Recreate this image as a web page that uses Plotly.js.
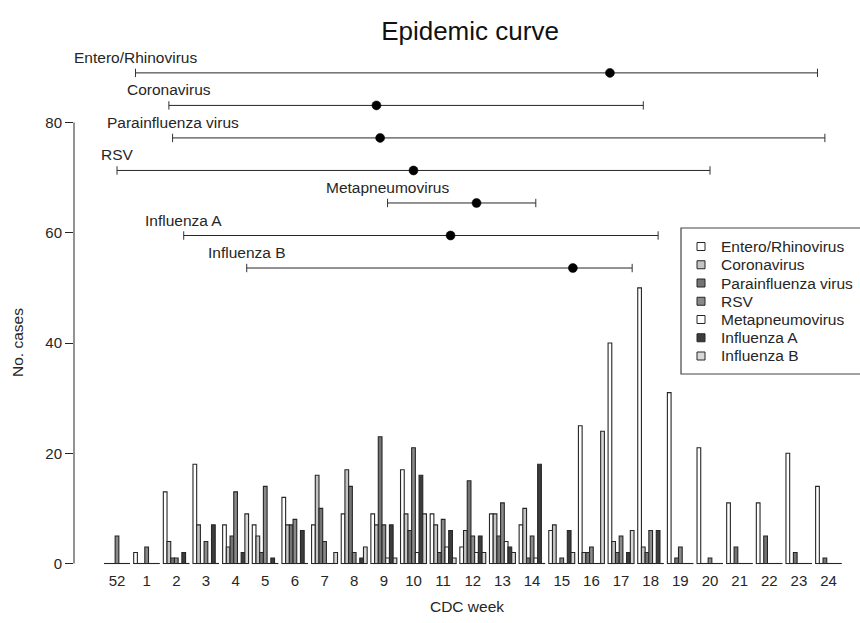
<!DOCTYPE html>
<html>
<head>
<meta charset="utf-8">
<script src="https://cdn.plot.ly/plotly-3.0.1.min.js"></script>
<style>
  html, body { margin: 0; padding: 0; background: #fff; }
  #chart { width: 860px; height: 623px; }
</style>
</head>
<body>
<div id="chart"></div>
<script>
// ---------------- data ----------------
const weeks = ['52','1','2','3','4','5','6','7','8','9','10','11','12','13','14','15','16','17','18','19','20','21','22','23','24'];

const seriesNames = ['Entero/Rhinovirus','Coronavirus','Parainfluenza virus','RSV','Metapneumovirus','Influenza A','Influenza B'];

const enteroRhino   = [0,2,13,18,7,7,12,7,9,9,17,9,3,9,7,6,25,40,50,31,21,11,11,20,14];
const coronavirus   = [0,0,4,7,3,5,7,16,17,7,9,7,6,9,10,7,2,4,3,0,0,0,0,0,0];
const parainfluenza = [0,0,1,0,5,2,7,10,14,23,6,2,15,5,1,0,2,2,2,1,0,3,5,2,1];
const rsv           = [5,3,1,4,13,14,8,4,2,7,21,8,5,11,5,1,3,5,6,3,1,0,0,0,0];
const metapneumo    = [0,0,0,0,0,0,0,0,0,1,2,3,2,4,1,0,0,0,0,0,0,0,0,0,0];
const influenzaA    = [0,0,2,7,2,1,6,0,1,7,16,6,5,3,18,6,0,2,6,0,0,0,0,0,0];
const influenzaB    = [0,0,0,0,9,0,0,2,3,1,9,1,2,2,0,2,24,6,0,0,0,0,0,0,0];

// epidemic period per virus: first week, median week, last week
const rangeStart  = ['1','2','2','52','9','2','4'];
const rangeMedian = ['17','9','9','10','12','11','15'];
const rangeEnd    = ['24','18','24','20','14','18','17'];

// ---------------- styling ----------------
const seriesValues = [enteroRhino, coronavirus, parainfluenza, rsv, metapneumo, influenzaA, influenzaB];
const fills = ['#ffffff','#c4c4c4','#747474','#8a8a8a','#ffffff','#3c3c3c','#d8d8d8'];
const ink = '#262626';
const FONT = 'Liberation Sans, Arial, Helvetica, sans-serif';

const W = 860, H = 623;
const M = {l: 74, r: 0, t: 30, b: 53};
const plotW = W - M.l - M.r, plotH = H - M.t - M.b;
const pxPerGroup = 29.65, firstCenterPx = 117;
const xMin = -(firstCenterPx - M.l) / pxPerGroup;
const xMax = xMin + plotW / pxPerGroup;
const pxPerUnit = 5.5125, zeroPx = 563.5;
const yMax = (zeroPx - M.t) / pxPerUnit;
const yMin = -((H - M.b) - zeroPx) / pxPerUnit;

const nSeries = seriesNames.length;
const barGap = 1 / (nSeries + 1);
const barW = (1 - barGap) / nSeries;
const idx = weeks.map((w, i) => i);
const weekIndex = w => weeks.indexOf(w);
const barOffset = k => (k - (nSeries - 1) / 2) * barW;

const px2paperX = px => (px - M.l) / plotW;
const px2paperY = py => ((H - M.b) - py) / plotH;

const traces = [];
seriesNames.forEach((name, k) => {
  traces.push({
    type: 'bar', name: name, x: idx, y: seriesValues[k],
    marker: {color: fills[k], line: {color: ink, width: 1.1}},
    showlegend: false, hoverinfo: 'x+y+name'
  });
});

// range lines
const levelTop = 89.0, levelStep = 5.9;
const annotations = [];
seriesNames.forEach((name, k) => {
  const lvl = levelTop - k * levelStep;
  const xs = weekIndex(rangeStart[k]) + barOffset(k);
  const xm = weekIndex(rangeMedian[k]) + barOffset(k);
  const xe = weekIndex(rangeEnd[k]) + barOffset(k);
  traces.push({
    type: 'scatter', mode: 'lines+markers', x: [xs, xe], y: [lvl, lvl],
    line: {color: ink, width: 1},
    marker: {symbol: 'line-ns', size: 6, color: '#333', line: {color: '#333', width: 1}},
    showlegend: false, hoverinfo: 'skip', cliponaxis: false
  });
  traces.push({
    type: 'scatter', mode: 'markers', x: [xm], y: [lvl],
    marker: {symbol: 'circle', size: 9, color: '#000000', line: {color: '#000000', width: 0.5}},
    showlegend: false, hoverinfo: 'skip', cliponaxis: false
  });
  annotations.push({
    x: xs, y: lvl, xref: 'x', yref: 'y', text: name, showarrow: false,
    xanchor: 'center', yanchor: 'middle', yshift: 15.5,
    font: {family: FONT, size: 15.5, color: ink}
  });
});

// y axis title (centred on the 0-80 axis span, as in the original)
annotations.push({x: px2paperX(17), y: px2paperY(343), xref: 'paper', yref: 'paper', text: 'No. cases',
                  showarrow: false, textangle: -90, xanchor: 'center', yanchor: 'middle',
                  font: {family: FONT, size: 15.5, color: ink}});

// shapes: y axis line, zero-bar baselines, legend
const shapes = [];
shapes.push({type: 'line', xref: 'paper', yref: 'y', x0: 0, x1: 0, y0: 0, y1: 80,
             line: {color: ink, width: 1}});
idx.forEach(i => {
  shapes.push({type: 'line', xref: 'x', yref: 'y', x0: i - (1 - barGap) / 2, x1: i + (1 - barGap) / 2,
               y0: 0, y1: 0, line: {color: ink, width: 1.1}, layer: 'below'});
});
// custom legend
shapes.push({type: 'rect', xref: 'paper', yref: 'paper',
             x0: px2paperX(681), x1: px2paperX(880), y0: px2paperY(374), y1: px2paperY(228),
             line: {color: '#444', width: 1.2}, fillcolor: 'rgba(255,255,255,1)'});
seriesNames.forEach((name, k) => {
  const cy = 246.5 + k * 18.25;
  shapes.push({type: 'rect', xref: 'paper', yref: 'paper',
               x0: px2paperX(697), x1: px2paperX(705), y0: px2paperY(cy + 4), y1: px2paperY(cy - 4),
               line: {color: ink, width: 1}, fillcolor: fills[k]});
  annotations.push({x: px2paperX(719), y: px2paperY(cy), xref: 'paper', yref: 'paper',
                    text: name, showarrow: false, xanchor: 'left', yanchor: 'middle',
                    font: {family: FONT, size: 15.5, color: ink}});
});

const layout = {
  width: W, height: H,
  margin: {l: M.l, r: M.r, t: M.t, b: M.b, pad: 0, autoexpand: false},
  paper_bgcolor: '#fff', plot_bgcolor: 'rgba(0,0,0,0)',
  font: {family: FONT, size: 15, color: ink},
  title: {text: 'Epidemic curve', x: px2paperX(470), xref: 'paper', xanchor: 'center',
          y: 1 - 31 / H, yref: 'container', yanchor: 'middle',
          font: {family: FONT, size: 26, color: '#111'}},
  barmode: 'group', bargap: barGap, bargroupgap: 0,
  showlegend: false,
  xaxis: {range: [xMin, xMax], tickmode: 'array', tickvals: idx, ticktext: weeks,
          showgrid: false, zeroline: false, showline: false, ticks: '',
          tickfont: {family: FONT, size: 15, color: ink},
          title: {text: 'CDC week', standoff: 13, font: {family: FONT, size: 15.5, color: ink}}},
  yaxis: {range: [yMin, yMax], tickmode: 'array', tickvals: [0, 20, 40, 60, 80],
          showgrid: false, zeroline: false, showline: false, ticks: 'outside', ticklen: 8,
          tickwidth: 1, tickcolor: ink,
          tickfont: {family: FONT, size: 15, color: ink}},
  shapes: shapes, annotations: annotations
};

Plotly.newPlot('chart', traces, layout, {displayModeBar: false, staticPlot: true});
</script>
</body>
</html>
